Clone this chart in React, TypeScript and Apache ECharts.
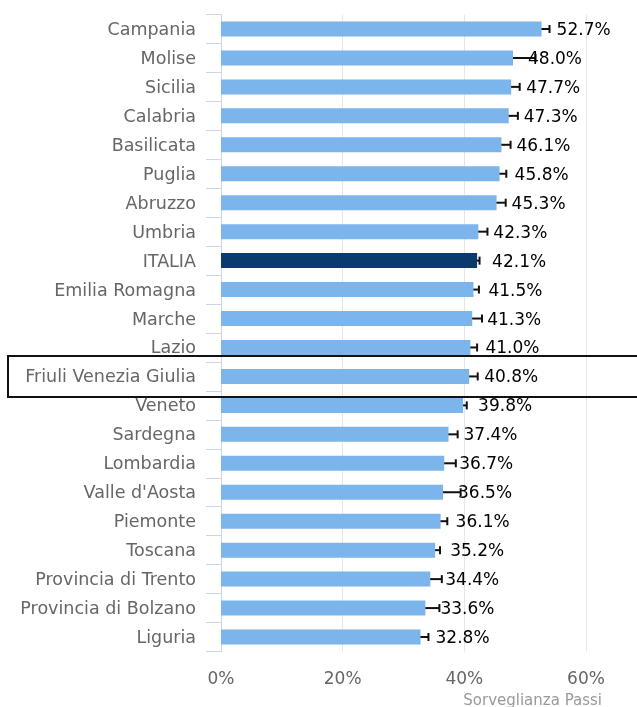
import React, { useEffect, useRef } from "react";
import * as echarts from "echarts";

const categories = [
  "Campania", "Molise", "Sicilia", "Calabria", "Basilicata", "Puglia", "Abruzzo", "Umbria",
  "ITALIA", "Emilia Romagna", "Marche", "Lazio", "Friuli Venezia Giulia", "Veneto", "Sardegna",
  "Lombardia", "Valle d'Aosta", "Piemonte", "Toscana", "Provincia di Trento",
  "Provincia di Bolzano", "Liguria",
];
const values = [52.7, 48.0, 47.7, 47.3, 46.1, 45.8, 45.3, 42.3, 42.1, 41.5, 41.3, 41.0, 40.8, 39.8, 37.4, 36.7, 36.5, 36.1, 35.2, 34.4, 33.6, 32.8];
const ciLow = [51.4, 44.3, 46.3, 45.8, 44.6, 44.8, 43.7, 40.8, 41.7, 40.6, 39.7, 39.9, 39.4, 39.3, 35.9, 34.8, 33.6, 35.1, 34.5, 32.5, 31.4, 31.6];
const ciHigh = [54.0, 51.7, 49.1, 48.8, 47.6, 46.9, 46.8, 43.8, 42.5, 42.4, 42.9, 42.1, 42.2, 40.4, 38.9, 38.6, 39.4, 37.2, 36.0, 36.3, 35.9, 34.1];
const xTicks = [0, 20, 40, 60];
const highlightIndex = 8;
const boxedIndex = 12;

const FONT = "DejaVu Sans";

export default function App() {
  const ref = useRef<HTMLDivElement>(null);
  useEffect(() => {
    const chart = echarts.init(ref.current!, undefined, { renderer: "svg" });
    const gridTop = 14.5;
    const gridBottom = 55.5;
    const band = (707 - gridTop - gridBottom) / categories.length;
    const boxCenter = gridTop + band * (boxedIndex + 0.5);
    chart.setOption({
      animation: false,
      grid: { left: 221, right: 51, top: gridTop, bottom: gridBottom, containLabel: false },
      xAxis: {
        type: "value",
        min: xTicks[0],
        max: xTicks[xTicks.length - 1],
        interval: 20,
        axisLine: { show: false },
        axisTick: { show: false },
        splitLine: { show: true, lineStyle: { color: "#e6e6e6", width: 1 } },
        axisLabel: {
          formatter: (v: number) => v + "%",
          color: "#666666",
          fontSize: 17,
          fontFamily: FONT,
          margin: 18,
        },
      },
      yAxis: {
        type: "category",
        data: categories,
        inverse: true,
        axisLine: { show: true, lineStyle: { color: "#ccd6eb", width: 1 } },
        axisTick: { show: true, length: 15, lineStyle: { color: "#ccd6eb" } },
        splitLine: { show: false },
        axisLabel: {
          color: "#666666",
          fontSize: 17.5,
          fontFamily: FONT,
          margin: 25,
        },
      },
      series: [
        {
          type: "bar",
          data: values.map((v, i) => ({
            value: v,
            itemStyle: { color: i === highlightIndex ? "#0b3a6e" : "#7cb5ec" },
          })),
          barWidth: 15,
          label: {
            show: true,
            position: "right",
            distance: 15,
            formatter: (p: any) => p.value.toFixed(1) + "%",
            color: "#000000",
            fontSize: 17,
            fontFamily: FONT,
          },
          z: 2,
        },
        {
          type: "custom",
          data: categories.map((_, i) => [i, ciLow[i], ciHigh[i]]),
          encode: { y: 0, x: [1, 2] },
          renderItem: (params: any, api: any) => {
            const idx = api.value(0);
            const lo = api.coord([api.value(1), idx]);
            const hi = api.coord([api.value(2), idx]);
            const h = 4;
            const style = { stroke: "#111111", lineWidth: 2 };
            return {
              type: "group",
              children: [
                { type: "line", shape: { x1: lo[0], y1: lo[1], x2: hi[0], y2: hi[1] }, style },
                { type: "line", shape: { x1: lo[0], y1: lo[1] - h, x2: lo[0], y2: lo[1] + h }, style },
                { type: "line", shape: { x1: hi[0], y1: hi[1] - h, x2: hi[0], y2: hi[1] + h }, style },
              ],
            };
          },
          z: 1,
        },
      ],
      graphic: [
        {
          type: "rect",
          shape: { x: 8, y: boxCenter - 20.5, width: 640, height: 41 },
          style: { fill: "none", stroke: "#111111", lineWidth: 2 },
          z: 100,
        },
        {
          type: "text",
          right: 35,
          top: 692,
          style: {
            text: "Sorveglianza Passi",
            fill: "#999999",
            fontSize: 15,
            fontFamily: FONT,
          },
        },
      ],
    });
    return () => chart.dispose();
  }, []);
  return (
    <div
      ref={ref}
      style={{ position: "fixed", left: 0, top: 0, width: 637, height: 707 }}
    />
  );
}
